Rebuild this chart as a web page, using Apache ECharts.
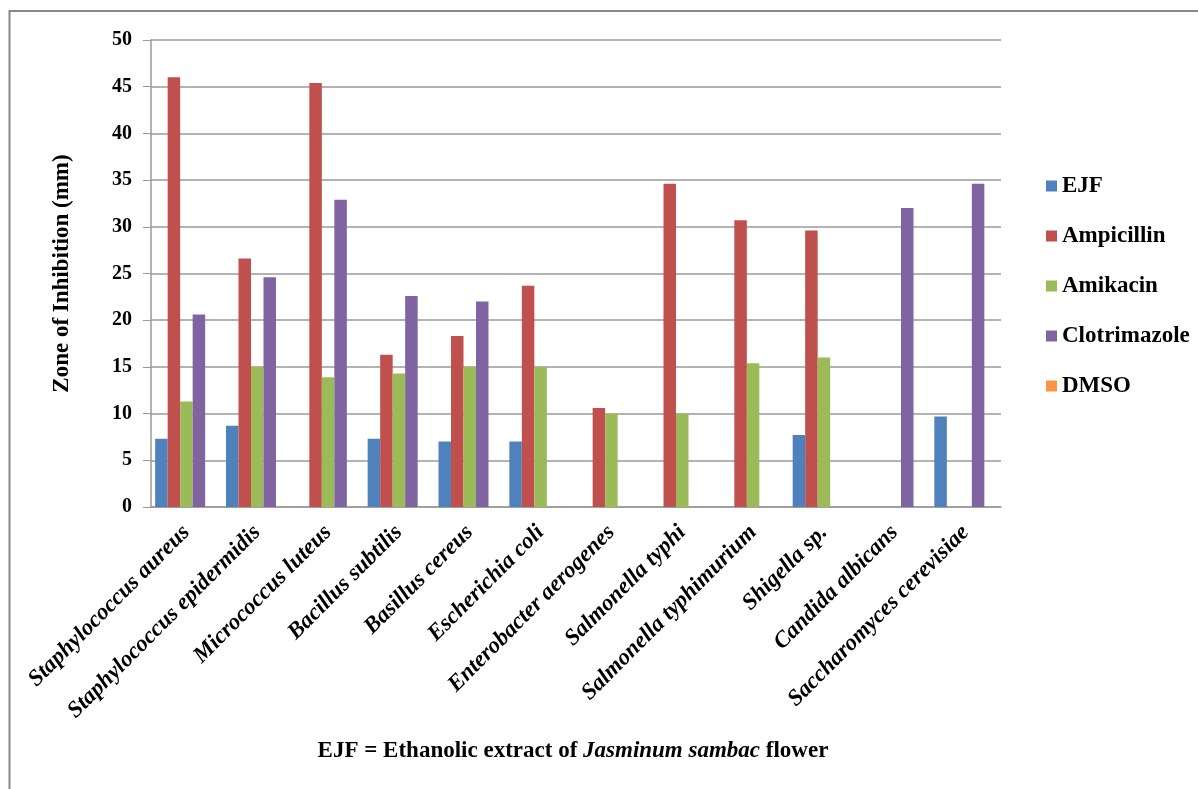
<!DOCTYPE html>
<html>
<head>
<meta charset="utf-8">
<script src="https://cdn.jsdelivr.net/npm/echarts@6/dist/echarts.min.js"></script>
<style>
  html, body { margin: 0; padding: 0; background: #ffffff; }
  #chart { width: 1198px; height: 789px; }
</style>
</head>
<body>
<div id="chart"></div>
<script>
// Test organisms
const organisms = [
  'Staphylococcus aureus', 'Staphylococcus epidermidis', 'Micrococcus luteus',
  'Bacillus subtilis', 'Basillus cereus', 'Escherichia coli',
  'Enterobacter aerogenes', 'Salmonella typhi', 'Salmonella typhimurium',
  'Shigella sp.', 'Candida albicans', 'Saccharomyces cerevisiae'
];

// Zone of inhibition (mm) per treatment
const ejf          = [7.3, 8.7, 0, 7.3, 7.0, 7.0, 0, 0, 0, 7.7, 0, 9.7];
const ampicillin   = [46.0, 26.6, 45.4, 16.3, 18.3, 23.7, 10.6, 34.6, 30.7, 29.6, 0, 0];
const amikacin     = [11.3, 15.0, 13.9, 14.3, 15.0, 15.0, 10.0, 10.0, 15.4, 16.0, 0, 0];
const clotrimazole = [20.6, 24.6, 32.9, 22.6, 22.0, 0, 0, 0, 0, 0, 32.0, 34.6];
const dmso         = [0, 0, 0, 0, 0, 0, 0, 0, 0, 0, 0, 0];

const yTicks = [0, 5, 10, 15, 20, 25, 30, 35, 40, 45, 50];

const serif = '"Liberation Serif", "Times New Roman", serif';
const seriesNames = ['EJF', 'Ampicillin', 'Amikacin', 'Clotrimazole', 'DMSO'];
const seriesData = [ejf, ampicillin, amikacin, clotrimazole, dmso];
const colors = ['#4F81BD', '#C0504D', '#9BBB59', '#8064A2', '#F79646'];

const chart = echarts.init(document.getElementById('chart'), null, { renderer: 'canvas' });

chart.setOption({
  animation: false,
  backgroundColor: '#ffffff',
  color: colors,
  grid: { left: 151, right: 197, top: 40, bottom: 282, containLabel: false },
  legend: {
    orient: 'vertical',
    left: 1041,
    top: 169,
    itemWidth: 11,
    itemHeight: 11,
    itemGap: 26,
    icon: 'rect',
    data: seriesNames,
    textStyle: { fontFamily: serif, fontWeight: 'bold', fontSize: 23, lineHeight: 24, color: '#000' }
  },
  xAxis: {
    type: 'category',
    data: organisms,
    axisLine: { lineStyle: { color: '#9a9a9a', width: 1.5 } },
    axisTick: { show: false },
    axisLabel: {
      interval: 0,
      rotate: 45,
      margin: 22,
      fontFamily: serif,
      fontWeight: 'bold',
      fontStyle: 'italic',
      fontSize: 23,
      color: '#000'
    }
  },
  yAxis: {
    type: 'value',
    min: yTicks[0],
    max: yTicks[yTicks.length - 1],
    interval: 5,
    name: 'Zone of Inhibition (mm)',
    nameLocation: 'middle',
    nameGap: 77,
    nameTextStyle: { fontFamily: serif, fontWeight: 'bold', fontSize: 23, color: '#000' },
    axisLine: { show: true, lineStyle: { color: '#9a9a9a', width: 1.5 } },
    axisTick: { show: true, length: 8, lineStyle: { color: '#9a9a9a' } },
    axisLabel: { margin: 19, fontFamily: serif, fontWeight: 'bold', fontSize: 20, color: '#000' },
    splitLine: { show: true, lineStyle: { color: '#9a9a9a', width: 1.5 } }
  },
  series: seriesNames.map((name, i) => ({
    name: name,
    type: 'bar',
    data: seriesData[i],
    barWidth: 12.5,
    barGap: '0%',
    itemStyle: { color: colors[i] }
  })),
  graphic: [
    {
      type: 'rect',
      shape: { x: 9.5, y: 11, width: 1300, height: 900 },
      style: { fill: 'none', stroke: '#888888', lineWidth: 2 },
      silent: true
    },
    {
      type: 'text',
      x: 573,
      y: 751,
      style: {
        text: '{b|EJF = Ethanolic extract of }{bi|Jasminum sambac}{b| flower}',
        align: 'center',
        verticalAlign: 'middle',
        rich: {
          b: { fontFamily: serif, fontWeight: 'bold', fontSize: 23, fill: '#000' },
          bi: { fontFamily: serif, fontWeight: 'bold', fontStyle: 'italic', fontSize: 23, fill: '#000' }
        }
      }
    }
  ]
});
</script>
</body>
</html>
